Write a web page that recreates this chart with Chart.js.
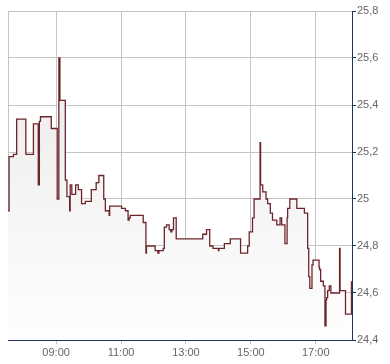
<!DOCTYPE html>
<html>
<head>
<meta charset="utf-8">
<script src="https://cdn.jsdelivr.net/npm/chart.js@4"></script>
<style>
  html, body { margin: 0; padding: 0; background: #fff; }
  #wrap { width: 390px; height: 364px; }
</style>
</head>
<body>
<div id="wrap"><canvas id="chart"></canvas></div>
<script>
// Horários das mudanças de preço e os preços correspondentes
const horarios = [
  '07:31', '07:33', '07:41', '07:47', '08:04', '08:18', '08:27', '08:29', '08:31', '08:51',
  '09:02', '09:05', '09:07', '09:17', '09:20', '09:25', '09:26', '09:29', '09:36', '09:41',
  '09:47', '09:54', '10:05', '10:14', '10:19', '10:28', '10:31', '10:38', '10:39', '11:01',
  '11:08', '11:13', '11:15', '11:17', '11:41', '11:46', '11:47', '12:03', '12:08', '12:10',
  '12:18', '12:20', '12:24', '12:29', '12:32', '12:34', '12:37', '12:42', '13:31', '13:38',
  '13:44', '13:50', '14:00', '14:01', '14:11', '14:22', '14:41', '14:54', '14:57', '15:03',
  '15:06', '15:17', '15:18', '15:22', '15:28', '15:31', '15:36', '15:40', '15:48', '15:54',
  '15:57', '16:03', '16:07', '16:08', '16:12', '16:25', '16:39', '16:45', '16:47', '16:49',
  '16:53', '16:55', '17:06', '17:07', '17:09', '17:14', '17:17', '17:19', '17:20', '17:22',
  '17:25', '17:28', '17:44', '17:45', '17:55', '18:06'
];
const precos = [
  24.95, 25.18, 25.19, 25.34, 25.19, 25.32, 25.06, 25.33, 25.35, 25.30,
  25.00, 25.60, 25.42, 25.08, 25.01, 24.95, 25.06, 25.02, 25.06, 25.04,
  24.98, 24.99, 25.04, 25.07, 25.10, 25.00, 24.95, 24.93, 24.97, 24.96,
  24.95, 24.91, 24.92, 24.93, 24.90, 24.77, 24.80, 24.78, 24.77, 24.78,
  24.79, 24.88, 24.89, 24.87, 24.86, 24.87, 24.92, 24.83, 24.85, 24.87,
  24.80, 24.79, 24.78, 24.79, 24.81, 24.83, 24.77, 24.80, 24.86, 24.92,
  25.00, 25.24, 25.06, 25.03, 25.00, 24.98, 24.94, 24.91, 24.89, 24.92,
  24.89, 24.81, 24.92, 24.96, 25.00, 24.96, 24.94, 24.79, 24.67, 24.62,
  24.72, 24.74, 24.71, 24.70, 24.65, 24.63, 24.46, 24.57, 24.58, 24.61,
  24.63, 24.60, 24.79, 24.61, 24.51, 24.65
];
const horasEixo = ['09:00', '11:00', '13:00', '15:00', '17:00'];
const inicioEixo = '07:31';
const fimEixo = '18:07';

// Converte "HH:MM" em minutos desde a meia-noite
function paraMinutos(h) {
  const [hh, mm] = h.split(':').map(Number);
  return hh * 60 + mm;
}

function formataHora(min) {
  const hh = String(Math.floor(min / 60)).padStart(2, '0');
  const mm = String(Math.round(min % 60)).padStart(2, '0');
  return `${hh}:${mm}`;
}

const pontos = horarios.map((h, i) => ({ x: paraMinutos(h), y: precos[i] }));
const minX = paraMinutos(inicioEixo);
const maxX = paraMinutos(fimEixo);

const corEixo = '#1d3461';
const corGrade = '#c4c4c4';
const fonte = { family: "'Liberation Sans', Arial, sans-serif", size: 11 };

const ctx = document.getElementById('chart').getContext('2d');

new Chart(ctx, {
  type: 'line',
  data: {
    datasets: [{
      data: pontos,
      stepped: true,
      borderColor: '#6c262b',
      borderWidth: 1.3,
      pointRadius: 0,
      fill: 'start',
      backgroundColor: (context) => {
        const area = context.chart.chartArea;
        if (!area) return '#f0f0f0';
        const g = context.chart.ctx.createLinearGradient(0, area.top, 0, area.bottom);
        g.addColorStop(0, '#e8e8e8');
        g.addColorStop(1, '#fefefe');
        return g;
      }
    }]
  },
  options: {
    responsive: true,
    maintainAspectRatio: false,
    animation: false,
    layout: { padding: { left: 8, top: 11, right: 0, bottom: 0 } },
    plugins: {
      legend: { display: false },
      tooltip: { enabled: false }
    },
    scales: {
      x: {
        type: 'linear',
        min: minX,
        max: maxX,
        afterBuildTicks: (scale) => {
          // linha da grade na borda esquerda + horários do eixo
          scale.ticks = [{ value: minX }].concat(horasEixo.map(h => ({ value: paraMinutos(h) })));
        },
        afterFit: (scale) => { scale.height = 24; },
        ticks: {
          autoSkip: false,
          maxRotation: 0,
          padding: 2,
          color: '#666',
          font: fonte,
          callback: (v) => (v === minX ? '' : formataHora(v))
        },
        grid: {
          color: corGrade,
          tickLength: 4,
          tickColor: (c) => (c.index === 0 ? 'rgba(0,0,0,0)' : corGrade)
        },
        border: { color: corEixo, width: 1 }
      },
      y: {
        position: 'right',
        min: 24.4,
        max: 25.8,
        afterFit: (scale) => { scale.width = 38; },
        ticks: {
          stepSize: 0.2,
          padding: 1,
          color: '#666',
          font: fonte,
          callback: (v) => String(Math.round(v * 10) / 10).replace('.', ',')
        },
        grid: {
          color: corGrade,
          tickLength: 4,
          tickColor: corEixo
        },
        border: { color: corEixo, width: 1 }
      }
    }
  }
});
</script>
</body>
</html>
